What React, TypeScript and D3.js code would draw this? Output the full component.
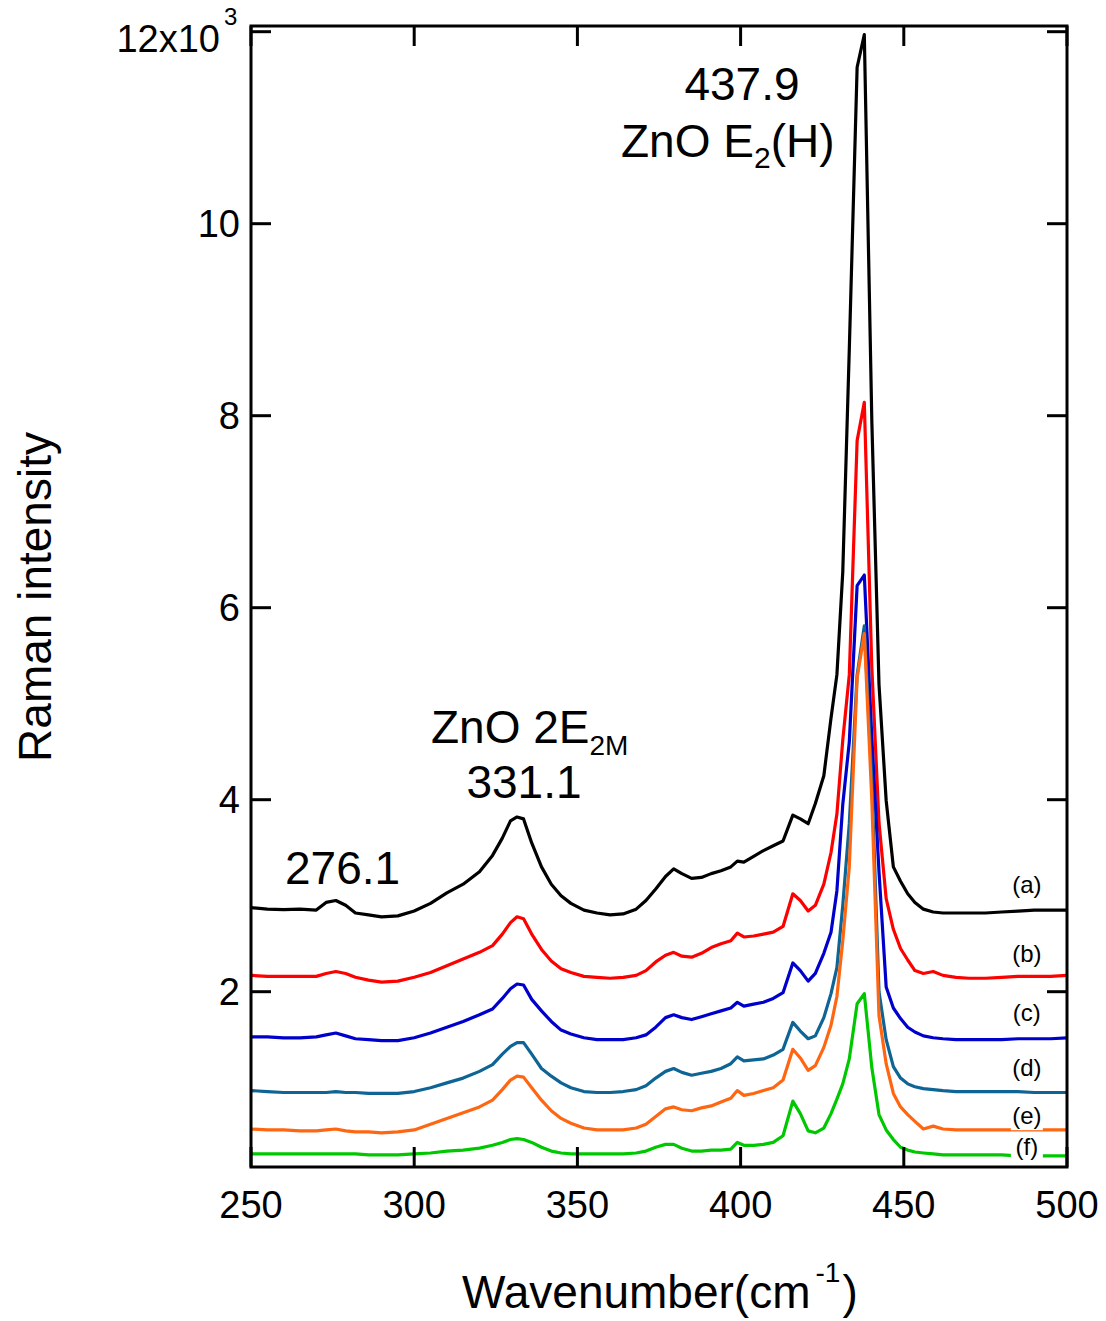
import React from "react";
import * as d3 from "d3";

const wavenumbers = [
  250, 255, 260, 265, 270, 273, 276, 279, 282, 286,
  290, 295, 300, 305, 310, 315, 320, 324, 327, 329.5,
  331.5, 333.5, 336, 339, 342, 345, 348, 352, 356, 360,
  364, 368, 371, 374, 377, 379.5, 382, 385, 388, 391,
  394, 397, 399, 401, 404, 407, 410, 413, 416, 418.3,
  420.7, 422.9, 425.5, 427.7, 429.5, 431.3, 433.3, 435.7, 437.9, 440.2,
  442.4, 444.6, 446.8, 449, 451.2, 453.4, 456, 459, 462, 466,
  470, 475, 480, 485, 490, 495, 500,
];

// intensities in units of 10^3
const seriesA = [
  2.875, 2.86, 2.855, 2.86, 2.85, 2.93, 2.95, 2.9, 2.82, 2.8,
  2.78, 2.79, 2.84, 2.92, 3.03, 3.12, 3.25, 3.42, 3.6, 3.78,
  3.82, 3.8, 3.55, 3.3, 3.12, 3.0, 2.92, 2.85, 2.82, 2.8,
  2.81, 2.86, 2.95, 3.07, 3.2, 3.28, 3.23, 3.18, 3.19, 3.23,
  3.26, 3.3, 3.36, 3.35, 3.41, 3.47, 3.52, 3.57, 3.84, 3.8,
  3.75, 3.96, 4.25, 4.85, 5.3, 6.37, 8.69, 11.63, 11.97, 7.95,
  5.2, 3.99, 3.3, 3.15, 3.02, 2.93, 2.86, 2.83, 2.82, 2.82,
  2.82, 2.82, 2.83, 2.84, 2.85, 2.85, 2.85,
];
const seriesB = [
  2.17, 2.16, 2.16, 2.16, 2.16, 2.19, 2.21, 2.19, 2.15, 2.12,
  2.1, 2.11, 2.15, 2.2, 2.27, 2.34, 2.41, 2.48, 2.6, 2.72,
  2.78, 2.76, 2.6, 2.44, 2.32, 2.24, 2.2, 2.16, 2.15, 2.14,
  2.15, 2.17, 2.22, 2.31, 2.38, 2.41, 2.37, 2.36, 2.4, 2.46,
  2.5, 2.53, 2.61, 2.57, 2.58, 2.6, 2.62, 2.68, 3.02, 2.95,
  2.84, 2.9, 3.12, 3.45, 3.85, 4.62, 5.3, 7.74, 8.14, 5.38,
  3.76, 2.97, 2.65, 2.45, 2.33, 2.22, 2.19, 2.21, 2.17, 2.15,
  2.14, 2.14, 2.15, 2.16, 2.16, 2.16, 2.17,
];
const seriesC = [
  1.53, 1.53, 1.52, 1.52, 1.53, 1.55, 1.57, 1.54, 1.51, 1.5,
  1.49, 1.49, 1.52, 1.57, 1.63, 1.69, 1.76, 1.82, 1.93, 2.03,
  2.08, 2.07, 1.92, 1.8, 1.69, 1.6, 1.56, 1.52, 1.5, 1.5,
  1.5, 1.52, 1.55, 1.63, 1.73, 1.76, 1.73, 1.71, 1.74, 1.77,
  1.8, 1.83, 1.89, 1.85, 1.87, 1.89, 1.93, 1.99, 2.3, 2.22,
  2.11, 2.19, 2.4, 2.62, 3.05, 3.95, 4.6, 6.23, 6.34, 4.65,
  3.25, 2.05, 1.83, 1.72, 1.63, 1.58, 1.54, 1.52, 1.51, 1.5,
  1.5, 1.5, 1.5, 1.51, 1.51, 1.51, 1.52,
];
const seriesD = [
  0.97, 0.96, 0.95, 0.95, 0.95, 0.95, 0.96, 0.95, 0.95, 0.94,
  0.94, 0.94, 0.96, 1.0, 1.05, 1.1, 1.17, 1.24, 1.35, 1.43,
  1.47, 1.47, 1.35, 1.2, 1.12, 1.05, 1.0, 0.96, 0.95, 0.95,
  0.96, 0.98, 1.02, 1.1, 1.17, 1.2, 1.16, 1.13, 1.15, 1.17,
  1.2, 1.25, 1.32, 1.28, 1.29, 1.3, 1.34, 1.4, 1.68, 1.59,
  1.51, 1.54, 1.73, 1.98, 2.25, 2.9, 3.75, 5.3, 5.81, 4.2,
  2.0, 1.5, 1.22, 1.1, 1.04, 1.01, 0.99, 0.98, 0.97, 0.96,
  0.96, 0.96, 0.96, 0.96, 0.95, 0.95, 0.95,
];
const seriesE = [
  0.57, 0.56, 0.56, 0.55, 0.55, 0.56, 0.57, 0.55, 0.54, 0.54,
  0.53, 0.54, 0.56, 0.62, 0.68, 0.74, 0.8, 0.87, 0.98, 1.08,
  1.12, 1.11, 1.0, 0.87, 0.76, 0.68, 0.63, 0.58, 0.56, 0.56,
  0.56, 0.58, 0.62, 0.7, 0.78, 0.8, 0.77, 0.76, 0.79, 0.81,
  0.85, 0.89, 0.97, 0.92, 0.94, 0.97, 1.0, 1.08, 1.4, 1.31,
  1.18, 1.23, 1.42, 1.65, 1.95, 2.53, 3.3, 5.27, 5.73, 4.0,
  1.75, 1.25, 0.94, 0.8, 0.72, 0.65, 0.57, 0.6, 0.57, 0.56,
  0.56, 0.56, 0.56, 0.56, 0.56, 0.56, 0.56,
];
const seriesF = [
  0.31, 0.31, 0.31, 0.31, 0.31, 0.31, 0.31, 0.31, 0.31, 0.3,
  0.3, 0.3, 0.31, 0.32, 0.34, 0.35, 0.37, 0.4, 0.43, 0.46,
  0.47, 0.46, 0.43, 0.38, 0.34, 0.32, 0.31, 0.31, 0.31, 0.31,
  0.31, 0.32, 0.34, 0.38, 0.41, 0.41, 0.37, 0.34, 0.34, 0.35,
  0.35, 0.36, 0.43, 0.4, 0.4, 0.41, 0.43, 0.5, 0.86, 0.73,
  0.55, 0.53, 0.58, 0.73, 0.88, 1.04, 1.3, 1.875, 1.98, 1.21,
  0.72, 0.56, 0.46, 0.38, 0.35, 0.33, 0.32, 0.31, 0.3, 0.3,
  0.3, 0.3, 0.3, 0.29, 0.29, 0.29, 0.29,
];

const seriesValues = [seriesA, seriesB, seriesC, seriesD, seriesE, seriesF];
const seriesLabels = ["(a)", "(b)", "(c)", "(d)", "(e)", "(f)"];
const seriesColors = ["#000000", "#ff0000", "#0000cc", "#0e6494", "#ff6611", "#00c800"];
// label anchor (wavenumber, intensity) for each series label baseline
const labelWavenumber = 487.7;
const labelLevels = [3.03, 2.31, 1.7, 1.12, 0.62, 0.3];

const xTicks = [250, 300, 350, 400, 450, 500];
const yTicks = [2, 4, 6, 8, 10, 12];

const FONT = "'Liberation Sans', Arial, Helvetica, sans-serif";

export default function App() {
  const left = 251, right = 1067, top = 26, bottom = 1167;
  const x = d3.scaleLinear().domain([250, 500]).range([left, right]);
  const y = d3.scaleLinear().domain([0, 12]).range([1183.7, 31.7]);

  const line = d3
    .line<number>()
    .x((_, i) => x(wavenumbers[i]))
    .y((d) => y(d));

  const tickLen = 20;

  return (
    <svg
      width={1106}
      height={1321}
      viewBox="0 0 1106 1321"
      style={{ position: "absolute", left: 0, top: 0, background: "#fff" }}
      fontFamily={FONT}
    >
      <rect x={0} y={0} width={1106} height={1321} fill="#fff" />
      <defs>
        <clipPath id="plotclip">
          <rect x={left} y={top} width={right - left} height={bottom - top} />
        </clipPath>
      </defs>

      <g clipPath="url(#plotclip)">
        {seriesValues.map((vals, k) => (
          <path
            key={k}
            d={line(vals) || ""}
            fill="none"
            stroke={seriesColors[k]}
            strokeWidth={3.2}
            strokeLinejoin="round"
          />
        ))}
      </g>

      {/* series labels */}
      {seriesLabels.map((lab, k) => {
        const cx = x(labelWavenumber);
        const by = y(labelLevels[k]);
        return (
          <g key={lab}>
            <rect x={cx - 16} y={by - 21} width={32} height={27} fill="#fff" />
            <text x={cx} y={by} fontSize={24} textAnchor="middle" fill="#000">
              {lab}
            </text>
          </g>
        );
      })}

      {/* frame */}
      <rect
        x={left}
        y={top}
        width={right - left}
        height={bottom - top}
        fill="none"
        stroke="#000"
        strokeWidth={3}
      />

      {/* ticks */}
      {xTicks.map((t) => (
        <g key={"xt" + t}>
          <line x1={x(t)} x2={x(t)} y1={bottom} y2={bottom - tickLen} stroke="#000" strokeWidth={3} />
          <line x1={x(t)} x2={x(t)} y1={top} y2={top + tickLen} stroke="#000" strokeWidth={3} />
          <text x={x(t)} y={1218} fontSize={38} textAnchor="middle" fill="#000">
            {t}
          </text>
        </g>
      ))}
      {yTicks.map((t) => (
        <g key={"yt" + t}>
          <line x1={left} x2={left + tickLen} y1={y(t)} y2={y(t)} stroke="#000" strokeWidth={3} />
          <line x1={right} x2={right - tickLen} y1={y(t)} y2={y(t)} stroke="#000" strokeWidth={3} />
          {t === 12 ? (
            <g>
              <text x={220} y={y(t) + 20.5} fontSize={38} textAnchor="end" fill="#000">
                12x10
              </text>
              <text x={224} y={25} fontSize={24} textAnchor="start" fill="#000">
                3
              </text>
            </g>
          ) : (
            <text x={240} y={y(t) + 13.5} fontSize={38} textAnchor="end" fill="#000">
              {t}
            </text>
          )}
        </g>
      ))}

      {/* axis titles */}
      <text x={462} y={1308} fontSize={46} fill="#000">
        Wavenumber(cm
        <tspan fontSize={28} dx={5} dy={-26}>
          -1
        </tspan>
        <tspan dx={2} dy={26}>
          )
        </tspan>
      </text>
      <text
        transform="translate(51,597) rotate(-90)"
        fontSize={46}
        textAnchor="middle"
        fill="#000"
      >
        Raman intensity
      </text>

      {/* peak annotations */}
      <text x={742} y={100} fontSize={46} textAnchor="middle" fill="#000">
        437.9
      </text>
      <text x={621} y={157} fontSize={46} fill="#000">
        ZnO E
        <tspan fontSize={30} dy={11}>
          2
        </tspan>
        <tspan dy={-11}>(H)</tspan>
      </text>
      <text x={431} y={743} fontSize={46} fill="#000">
        ZnO 2E
        <tspan fontSize={28} dy={12}>
          2M
        </tspan>
      </text>
      <text x={524} y={798} fontSize={46} textAnchor="middle" fill="#000">
        331.1
      </text>
      <text x={285} y={884} fontSize={46} fill="#000">
        276.1
      </text>
    </svg>
  );
}
